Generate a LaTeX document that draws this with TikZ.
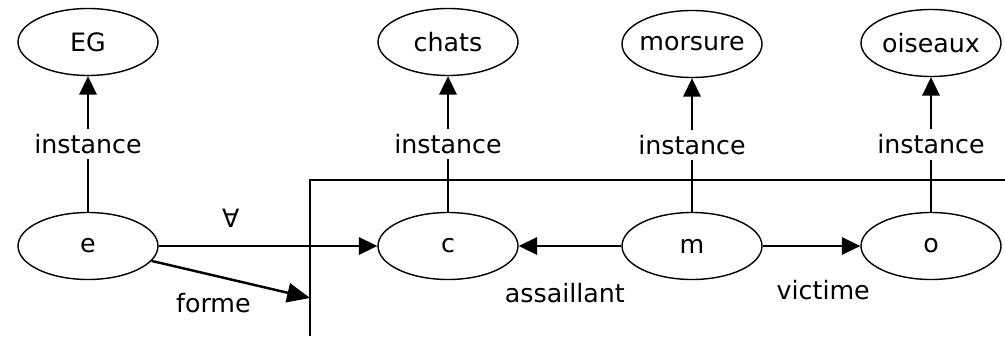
\documentclass[tikz,border=0pt]{standalone}
\usepackage{fontspec}
\setmainfont{DejaVu Sans}
\usetikzlibrary{arrows.meta,shapes.geometric}

\begin{document}
\begin{tikzpicture}[
  font=\fontsize{14.4}{17}\selectfont,
  concept/.style={draw, ellipse, line width=0.8pt, minimum width=2.8cm,
    minimum height=1.34cm, inner xsep=-4pt, inner ysep=0pt},
  rel/.style={line width=0.8pt, -{Triangle[length=10.5pt,width=10pt]}},
  lbl/.style={fill=white, inner sep=3pt},
  rolelbl/.style={fill=white, inner xsep=8pt, inner ysep=4pt}
]
\useasboundingbox (0,0) rectangle (20.1,6.72);

\node[concept] (EG) at (1.76,5.88) {EG};
\node[concept] (chats) at (8.96,5.88) {chats};
\node[concept] (morsure) at (13.84,5.84) {morsure};
\node[concept] (oiseaux) at (18.62,5.86) {oiseaux};

\node[concept] (e) at (1.76,1.80) {e};
\node[concept] (c) at (8.96,1.80) {c};
\node[concept] (m) at (13.84,1.80) {m};
\node[concept] (o) at (18.62,1.80) {o};

\coordinate (formeend) at (6.2,0.76);

\draw[line width=0.8pt] (6.2,0) |- (20.1,3.12);

\draw[rel] (e) -- node[lbl]{instance} (EG);
\draw[rel] (c) -- node[lbl]{instance} (chats);
\draw[rel] (m) -- node[lbl]{instance} (morsure);
\draw[rel] (o) -- node[lbl]{instance} (oiseaux);

\draw[rel] (e) -- node[pos=0.33,yshift=0.56cm]{∀} (c);
\draw[line width=1.4pt, -{Triangle[length=13pt,width=11pt]}] (e) -- node[pos=0.39,yshift=-0.56cm]{forme} (formeend);
\draw[rel] (m) -- node[rolelbl,pos=0.55,yshift=-0.94cm]{assaillant} (c);
\draw[rel] (m) -- node[rolelbl,pos=0.62,yshift=-0.88cm]{victime} (o);

\end{tikzpicture}
\end{document}
